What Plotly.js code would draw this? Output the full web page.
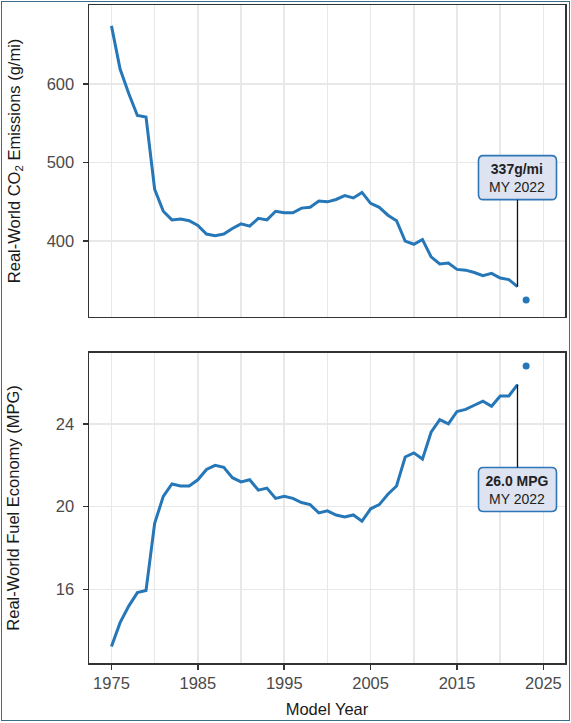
<!DOCTYPE html>
<html>
<head>
<meta charset="utf-8">
<script src="https://cdn.plot.ly/plotly-3.0.1.min.js"></script>
<style>
  html, body { margin: 0; padding: 0; background: #ffffff; }
  #wrap { position: relative; width: 571px; height: 723px; }
  #chart { width: 571px; height: 723px; }
  #frame { position: absolute; left: 1px; top: 1px; width: 567px; height: 718px;
           border: 1.5px solid #3b6c8c; pointer-events: none; }
</style>
</head>
<body>
<div id="wrap"><div id="chart"></div><div id="frame"></div></div>
<script>
// Model years
const years = [1975,1976,1977,1978,1979,1980,1981,1982,1983,1984,1985,1986,1987,1988,1989,
  1990,1991,1992,1993,1994,1995,1996,1997,1998,1999,2000,2001,2002,2003,2004,2005,2006,
  2007,2008,2009,2010,2011,2012,2013,2014,2015,2016,2017,2018,2019,2020,2021,2022];
// Real-world CO2 emissions (g/mi)
const co2 = [674,619,588,560,558,466,438,427,428,426,420,409,407,409,416,422,419,429,427,438,
  436,436,442,443,451,450,453,458,455,462,448,443,433,426,400,396,402,380,371,372,364,363,
  360,356,359,353,351,342];
// Real-world fuel economy (MPG)
const mpg = [13.25,14.4,15.2,15.85,15.95,19.2,20.5,21.1,21.0,21.0,21.3,21.8,22.0,21.9,21.4,21.2,
  21.3,20.8,20.9,20.4,20.5,20.4,20.2,20.1,19.7,19.8,19.6,19.5,19.6,19.3,19.9,20.1,20.6,21.0,
  22.4,22.6,22.3,23.6,24.2,24.0,24.6,24.7,24.9,25.1,24.85,25.35,25.35,25.9];
// Preliminary point
const prelimYear = [2023];
const prelimCo2 = [325];
const prelimMpg = [26.8];
// Callout labels
const co2Label = ["337g/mi", "MY 2022"];
const mpgLabel = ["26.0 MPG", "MY 2022"];
const xTicks = [1975,1985,1995,2005,2015,2025];

const blue = "#2677b8";
const font = "'Liberation Sans', Arial, sans-serif";
const last = years.length - 1;

const traces = [
  {x: years, y: co2, type: "scatter", mode: "lines", line: {color: blue, width: 3}, xaxis: "x", yaxis: "y"},
  {x: prelimYear, y: prelimCo2, type: "scatter", mode: "markers", marker: {color: blue, size: 7}, xaxis: "x", yaxis: "y"},
  {x: years, y: mpg, type: "scatter", mode: "lines", line: {color: blue, width: 3}, xaxis: "x2", yaxis: "y2"},
  {x: prelimYear, y: prelimMpg, type: "scatter", mode: "markers", marker: {color: blue, size: 7}, xaxis: "x2", yaxis: "y2"}
];

const axisCommon = {
  showline: true, mirror: true, linecolor: "#333333", linewidth: 1.5,
  showgrid: true, gridcolor: "#e8e8e8", gridwidth: 1.5, zeroline: false,
  tickfont: {family: font, size: 16.5, color: "#4a4a4a"}
};

const xBase = Object.assign({}, axisCommon, {
  range: [1972.4, 2027.5], tickvals: xTicks, ticktext: xTicks.map(String),
  minor: {dtick: 5, tick0: 1975, showgrid: true, gridcolor: "#e8e8e8", gridwidth: 1.5, ticklen: 0}
});

// callout box geometry (pixels)
const boxW = 78, boxH = 44, rad = 5;
const roundedBox = (cy) => {
  const l = -boxW / 2, r = boxW / 2, b = cy - boxH / 2, t = cy + boxH / 2;
  return `M ${l + rad},${b} L ${r - rad},${b} Q ${r},${b} ${r},${b + rad} L ${r},${t - rad} Q ${r},${t} ${r - rad},${t} ` +
         `L ${l + rad},${t} Q ${l},${t} ${l},${t - rad} L ${l},${b + rad} Q ${l},${b} ${l + rad},${b} Z`;
};
const boxShape = (x, y, cy, xr, yr) => ({
  type: "path", xref: xr, yref: yr, xsizemode: "pixel", ysizemode: "pixel",
  xanchor: x, yanchor: y, path: roundedBox(cy),
  fillcolor: "#dde3f1", line: {color: "#2f76b6", width: 1.6}, layer: "above"
});

const ann = (x, y, lines, ay, xr, yr) => ({
  x: x, y: y, xref: xr, yref: yr, ax: 0, ay: ay,
  text: "<b>" + lines[0] + "</b><br>" + lines[1],
  showarrow: true, arrowhead: 0, arrowwidth: 1.3, arrowcolor: "#111111",
  font: {family: font, size: 14, color: "#222222"},
  borderwidth: 0, borderpad: 2,
  width: boxW - 4, height: boxH - 4, align: "center"
});

const layout = {
  width: 571, height: 723,
  margin: {l: 89, r: 5.5, t: 5, b: 60.3},
  paper_bgcolor: "#ffffff", plot_bgcolor: "#ffffff",
  showlegend: false,
  font: {family: font, color: "#222222"},
  xaxis: Object.assign({}, xBase, {anchor: "y", showticklabels: false, ticks: "", matches: "x2"}),
  xaxis2: Object.assign({}, xBase, {anchor: "y2", ticks: "outside", ticklen: 5, tickwidth: 1.5, tickcolor: "#333333",
    title: {text: "Model Year", font: {family: font, size: 16.5, color: "#1a1a1a"}, standoff: 12}}),
  yaxis: Object.assign({}, axisCommon, {domain: [0.5261, 1], range: [303.6, 700.6], tickvals: [400,500,600],
    ticks: "outside", ticklen: 5, tickwidth: 1.5, tickcolor: "#333333", ticklabelstandoff: 5,
    title: {text: "Real-World CO<sub>2</sub> Emissions (g/mi)", font: {family: font, size: 16.5, color: "#1a1a1a"}, standoff: 22}}),
  yaxis2: Object.assign({}, axisCommon, {domain: [0, 0.4713], range: [12.45, 27.43], tickvals: [16,20,24],
    ticks: "outside", ticklen: 5, tickwidth: 1.5, tickcolor: "#333333", ticklabelstandoff: 5,
    title: {text: "Real-World Fuel Economy (MPG)", font: {family: font, size: 16.5, color: "#1a1a1a"}, standoff: 32}}),
  shapes: [
    boxShape(years[last], co2[last], 109, "x", "y"),
    boxShape(years[last], mpg[last], -105, "x2", "y2")
  ],
  annotations: [
    ann(years[last], co2[last], co2Label, -109, "x", "y"),
    ann(years[last], mpg[last], mpgLabel, 105, "x2", "y2")
  ]
};

Plotly.newPlot("chart", traces, layout, {displayModeBar: false, staticPlot: true});
</script>
</body>
</html>
